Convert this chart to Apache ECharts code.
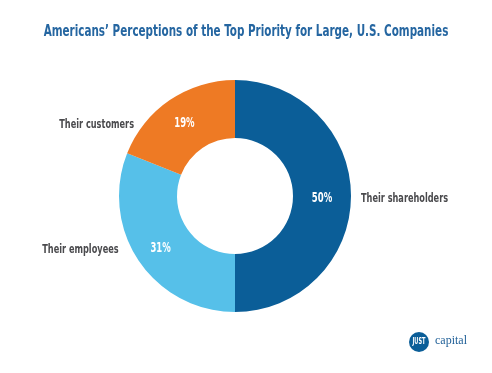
<!DOCTYPE html>
<html><head><meta charset="utf-8">
<script src="https://cdn.jsdelivr.net/npm/echarts@6/dist/echarts.min.js"></script>
<style>html,body{margin:0;padding:0;background:#fff}#c{width:492px;height:373px}</style>
</head><body><div id="c"></div>
<script>
const categories = ['Their shareholders', 'Their employees', 'Their customers'];
const values = [50, 31, 19];
const colors = ['#0b5e98', '#56c0e9', '#ee7a24'];
const titleText = 'Americans\u2019 Perceptions of the Top Priority for Large, U.S. Companies';

const FONT = '"DejaVu Sans Condensed", "Liberation Sans Narrow", sans-serif';
const NARROW = 0.7;           // horizontal squeeze to mimic a condensed display face
const CX = 235, CY = 196, R0 = 58, R = 116;

const data = categories.map((n, i) => ({ name: n, value: values[i], itemStyle: { color: colors[i] } }));

const chart = echarts.init(document.getElementById('c'), null, { renderer: 'canvas' });
chart.setOption({
  animation: false,
  backgroundColor: '#fff',
  title: {
    text: titleText, left: 'center', top: 18,
    textStyle: { fontFamily: FONT, fontWeight: 'bold', fontSize: 16.5, color: '#2566a1' }
  },
  series: [
    {
      type: 'pie', center: [CX, CY], radius: [R0, R], startAngle: 90, clockwise: true,
      silent: true,
      data: data,
      label: { position: 'inside', formatter: '{c}%', color: '#fff', fontFamily: FONT, fontWeight: 'bold', fontSize: 13.5 },
      labelLine: { show: false },
      labelLayout: function (p) {
        const r = p.labelRect;
        const cx = r.x + r.width / 2, cy = r.y + r.height / 2;
        return { x: cx + (cx > CX ? -3 : 0), y: cy + 2, align: 'center' };
      }
    },
    {
      type: 'pie', center: [CX, CY], radius: [R0, R], startAngle: 90, clockwise: true,
      silent: true,
      data: categories.map((n, i) => ({ name: n, value: values[i], itemStyle: { color: 'rgba(0,0,0,0)' } })),
      label: { position: 'inside', formatter: '{b}', color: '#4a4a4d', fontFamily: FONT, fontWeight: 'bold', fontSize: 13 },
      labelLine: { show: false },
      labelLayout: function (p) {
        const r = p.labelRect;
        const cy = r.y + r.height / 2;
        const dy = cy - CY;
        const dx = Math.sqrt(Math.max(0, R * R - dy * dy));
        const right = r.x + r.width / 2 > CX;
        return right ? { x: CX + dx + 10, y: cy + 3, align: 'left' } : { x: CX - dx - 12, y: cy + 3, align: 'right' };
      }
    }
  ],
  graphic: [
    { type: 'circle', shape: { cx: 419, cy: 342, r: 10 }, style: { fill: '#0b5e98' } },
    { type: 'text', x: 419, y: 342, style: { text: 'JUST', fill: '#fff', font: 'bold 8px ' + FONT, align: 'center', verticalAlign: 'middle' } },
    { type: 'text', x: 435, y: 341, style: { text: 'capital', fill: '#1f5f97', font: '12px "Liberation Serif", "DejaVu Serif", serif', align: 'left', verticalAlign: 'middle' } }
  ]
});

// squeeze condensed-font texts horizontally around their anchor
let squeezed = false;
function squeeze() {
  if (squeezed) return;
  squeezed = true;
  const zr = chart.getZr();
  const list = zr.storage.getDisplayList(true);
  list.forEach(el => {
    if (el.type === 'tspan' && el.style && el.style.font && el.style.font.indexOf('DejaVu Sans Condensed') >= 0) {
      el.originX = el.style.x || 0;
      el.originY = el.style.y || 0;
      el.scaleX = NARROW;
      el.markRedraw();
    }
  });
  zr.refreshImmediately();
}
chart.on('finished', squeeze);
setTimeout(squeeze, 50);
</script></body></html>
